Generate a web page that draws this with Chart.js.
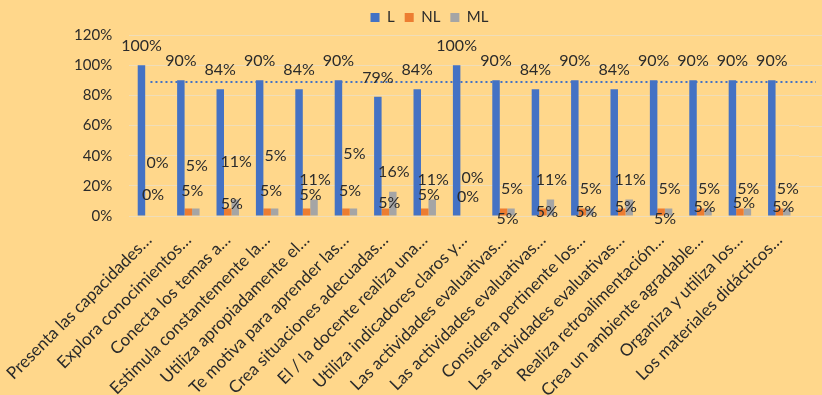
<!DOCTYPE html>
<html>
<head>
<meta charset="utf-8">
<script src="https://cdn.jsdelivr.net/npm/chart.js@4.4.0/dist/chart.umd.min.js"></script>
<style>
  html, body { margin: 0; padding: 0; background: #FFD78B; }
  #wrap { width: 822px; height: 395px; }
</style>
</head>
<body>
<div id="wrap"><canvas id="grafico" width="822" height="395"></canvas></div>
<script>
const categorias = [
    'Presenta las capacidades…', 'Explora conocimientos…', 'Conecta los temas a…',
    'Estimula constantemente la…', 'Utiliza apropiadamente el…', 'Te motiva para aprender las…',
    'Crea situaciones adecuadas…', 'El / la docente realiza una…', 'Utiliza indicadores claros y…',
    'Las actividades evaluativas…', 'Las actividades evaluativas…', 'Considera pertinente los…',
    'Las actividades evaluativas…', 'Realiza retroalimentación…', 'Crea un ambiente agradable…',
    'Organiza y utiliza los…', 'Los materiales didácticos…'
];
const valoresL  = [100, 90, 84, 90, 84, 90, 79, 84, 100, 90, 84, 90, 84, 90, 90, 90, 90];
const valoresNL = [0, 5, 5, 5, 5, 5, 5, 5, 0, 5, 5, 5, 5, 5, 5, 5, 5];
const valoresML = [0, 5, 11, 5, 11, 5, 16, 11, 0, 5, 11, 5, 11, 5, 5, 5, 5];
const tendenciaL = 88.8;
const ticksY = [0, 20, 40, 60, 80, 100, 120];

// altura (en % del eje) donde Excel dejó las etiquetas de NL y ML
const posEtiquetaML = [35, 33, 36, 40, 24, 41, 29, 24, 25, 18, 24, 18, 24, 18, 18, 18, 18];
const posEtiquetaNL = [14, 17, 8, 17, 14, 17, 9, 14, 13, -2, 3, 3, 6, -2, 6, 9, 6];

const fuente = 'Lato, "Open Sans", sans-serif';
const colorTexto = '#2b2b2b';

const fondo = {
    id: 'fondo',
    beforeDraw(chart) {
        const ctx = chart.ctx;
        ctx.save();
        ctx.fillStyle = '#FFD78B';
        ctx.fillRect(0, 0, chart.width, chart.height);
        ctx.restore();
    }
};

// corre la leyenda un poco a la derecha, como en el original
const moverLeyenda = {
    id: 'moverLeyenda',
    afterLayout(chart) {
        if (chart.legend) {
            chart.legend.left += 30;
            chart.legend.right += 30;
        }
    }
};

// prolonga las lineas de la grilla y dibuja la linea punteada
const extras = {
    id: 'extras',
    beforeDatasetsDraw(chart) {
        const ctx = chart.ctx;
        const y = chart.scales.y;
        const area = chart.chartArea;
        ctx.save();
        ctx.strokeStyle = '#EFDDB9';
        ctx.lineWidth = 1;
        ticksY.forEach(t => {
            const py = Math.round(y.getPixelForValue(t)) + 0.5;
            ctx.beginPath();
            ctx.moveTo(area.right, py);
            ctx.lineTo(chart.width, py);
            ctx.stroke();
        });
        ctx.restore();
    },
    afterDatasetsDraw(chart) {
        const ctx = chart.ctx;
        const y = chart.scales.y;
        const metaL = chart.getDatasetMeta(0);
        const metaNL = chart.getDatasetMeta(1);
        const metaML = chart.getDatasetMeta(2);

        ctx.save();
        const py = y.getPixelForValue(tendenciaL);
        ctx.strokeStyle = '#4472C4';
        ctx.lineWidth = 2;
        ctx.setLineDash([2, 3]);
        ctx.beginPath();
        ctx.moveTo(metaL.data[0].x + 9, py);
        ctx.lineTo(chart.width - 6, py);
        ctx.stroke();
        ctx.setLineDash([]);

        ctx.font = '16px ' + fuente;
        ctx.fillStyle = colorTexto;
        ctx.textAlign = 'center';
        ctx.textBaseline = 'middle';
        metaL.data.forEach((bar, i) => {
            ctx.fillText(valoresL[i] + '%', bar.x, bar.y - 19);
        });
        metaML.data.forEach((bar, i) => {
            ctx.fillText(valoresML[i] + '%', bar.x + 1, y.getPixelForValue(posEtiquetaML[i]));
        });
        metaNL.data.forEach((bar, i) => {
            ctx.fillText(valoresNL[i] + '%', bar.x + 4, y.getPixelForValue(posEtiquetaNL[i]));
        });
        ctx.restore();
    }
};

const ctx = document.getElementById('grafico').getContext('2d');
new Chart(ctx, {
    type: 'bar',
    data: {
        labels: categorias,
        datasets: [
            { label: 'L', data: valoresL, backgroundColor: '#4472C4' },
            { label: 'NL', data: valoresNL, backgroundColor: '#ED7D31' },
            { label: 'ML', data: valoresML, backgroundColor: '#A5A5A5' }
        ]
    },
    options: {
        responsive: false,
        animation: false,
        layout: { padding: { left: 0, right: 23, top: 0, bottom: 0 } },
        datasets: { bar: { categoryPercentage: 0.57, barPercentage: 1.0 } },
        plugins: {
            legend: {
                position: 'top',
                labels: {
                    boxWidth: 9, boxHeight: 9, padding: 10,
                    color: colorTexto,
                    font: { family: fuente, size: 15 }
                }
            },
            tooltip: { enabled: false }
        },
        scales: {
            x: {
                grid: { display: false },
                border: { color: '#EFDDB9' },
                ticks: {
                    minRotation: 45, maxRotation: 45, autoSkip: false,
                    color: colorTexto, padding: 6,
                    font: { family: fuente, size: 17 }
                },
                afterFit(scale) { scale.height = 179; }
            },
            y: {
                min: 0, max: 120,
                afterBuildTicks(scale) { scale.ticks = ticksY.map(v => ({ value: v })); },
                grid: { color: '#EFDDB9', drawTicks: false },
                border: { display: false },
                ticks: {
                    padding: 17, color: colorTexto,
                    font: { family: fuente, size: 15 },
                    callback: v => v + '%'
                },
                afterFit(scale) { scale.width = 125; }
            }
        }
    },
    plugins: [fondo, moverLeyenda, extras]
});
</script>
</body>
</html>
